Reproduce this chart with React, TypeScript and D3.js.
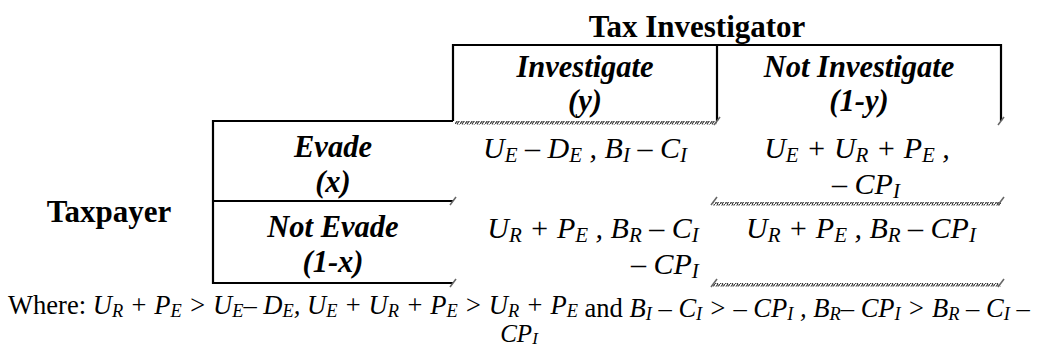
import * as d3 from 'd3';
import React, { useRef, useEffect } from 'react';

// players and strategies
const colPlayer = 'Tax Investigator';
const rowPlayer = 'Taxpayer';
const colStrategies = ['Investigate', 'Not Investigate'];
const colProbs = ['(y)', '(1-y)'];
const rowStrategies = ['Evade', 'Not Evade'];
const rowProbs = ['(x)', '(1-x)'];

// payoffs, "_X" marks a subscript; each cell may wrap to a second line
const payoffLine1 = [
  ['U_E – D_E , B_I – C_I', 'U_E + U_R + P_E ,'],
  ['U_R + P_E , B_R – C_I', 'U_R + P_E , B_R – CP_I'],
];
const payoffLine2 = [
  ['', '– CP_I'],
  ['– CP_I', ''],
];

// footnote pieces, up = upright text
const notePieces = [
  { t: 'Where: ', up: true },
  { t: 'U_R + P_E > U_E– D_E, U_E + U_R + P_E > U_R + P_E', up: false },
  { t: ' and ', up: true },
  { t: 'B_I – C_I > – CP_I , B_R– CP_I > B_R – C_I –', up: false },
];
const noteLine2 = 'CP_I';

const W = 1038;
const H = 347;
const FONT = "'Liberation Serif', 'Times New Roman', 'DejaVu Serif', serif";

function addMath(sel, str, subSize, drop) {
  const parts = str.split(/(_[A-Za-z])/).filter(p => p !== '');
  let low = false;
  parts.forEach(p => {
    if (p.startsWith('_')) {
      sel.append('tspan').attr('class', 'sub').style('font-size', subSize + 'px').attr('dy', low ? 0 : drop).text(p.slice(1));
      low = true;
    } else {
      sel.append('tspan').attr('dy', low ? -drop : 0).text(p);
      low = false;
    }
  });
}

function PayoffTable() {
  const ref = useRef(null);

  useEffect(() => {
    const svg = d3.select(ref.current);
    svg.selectAll('*').remove();

    // column edges / row edges of the matrix
    const colEdges = [453, 717, 1001];
    const rowEdges = [121, 201, 283];
    const headTop = 45;
    const rowLeft = 213;

    const colX = d3.scaleOrdinal().domain(colStrategies).range(colEdges.slice(0, 2).map((e, i) => (e + colEdges[i + 1]) / 2));
    const rowY = d3.scaleOrdinal().domain(rowStrategies).range(rowEdges.slice(0, 2));

    const defs = svg.append('defs');
    const pat = defs.append('pattern').attr('id', 'hatch').attr('patternUnits', 'userSpaceOnUse')
      .attr('width', 5).attr('height', 4);
    pat.append('path').attr('d', 'M0,4 L3,0 M2,4 L5,0').attr('stroke', '#333').attr('stroke-width', 1.1);

    const g = svg.append('g').style('font-family', FONT).attr('fill', '#000').style('white-space', 'pre');

    const txt = (x, y, size, bold, italic, anchor = 'middle') =>
      g.append('text').attr('x', x).attr('y', y).attr('text-anchor', anchor)
        .style('font-size', size + 'px')
        .style('font-weight', bold ? 'bold' : 'normal')
        .style('font-style', italic ? 'italic' : 'normal');

    // title
    txt(697, 37, 31, true, false).text(colPlayer);

    // header box
    g.append('path')
      .attr('d', `M${colEdges[0]},${rowEdges[0]} V${headTop} H${colEdges[2]} V${rowEdges[0]} M${colEdges[1]},${headTop} V${rowEdges[0]}`)
      .attr('fill', 'none').attr('stroke', '#000').attr('stroke-width', 2.2);

    // row box
    g.append('path')
      .attr('d', `M${colEdges[0]},${rowEdges[0]} H${rowLeft} V${rowEdges[2]} H${colEdges[0]} M${rowLeft},${rowEdges[1]} H${colEdges[0]}`)
      .attr('fill', 'none').attr('stroke', '#000').attr('stroke-width', 2.2);

    // hatched borders
    const hatches = [
      [colEdges[0] + 2, rowEdges[0], colEdges[1] - colEdges[0] - 2],
      [colEdges[1] - 4, rowEdges[1] + 1, colEdges[2] - colEdges[1] + 4],
      [colEdges[1] - 4, rowEdges[2], colEdges[2] - colEdges[1] + 4],
    ];
    g.selectAll('rect.hatch').data(hatches).join('rect').attr('class', 'hatch')
      .attr('x', d => d[0]).attr('y', d => d[1]).attr('width', d => d[2]).attr('height', 3.5)
      .attr('fill', 'url(#hatch)');

    const marks = [
      [colEdges[1], rowEdges[0]], [colEdges[2], rowEdges[0]],
      [colEdges[0], rowEdges[1]], [colEdges[0], rowEdges[2]],
      [colEdges[1] - 3, rowEdges[1]], [colEdges[2], rowEdges[1]],
      [colEdges[1] - 3, rowEdges[2]], [colEdges[2], rowEdges[2]],
    ];
    g.selectAll('path.mark').data(marks).join('path').attr('class', 'mark')
      .attr('d', d => `M${d[0] - 3},${d[1] + 4} L${d[0] + 3},${d[1] - 4}`)
      .attr('stroke', '#666').attr('stroke-width', 1.6);

    // column headers
    colStrategies.forEach((c, i) => {
      txt(colX(c), 77, 30.5, true, true).text(c);
      txt(colX(c), 111, 30.5, true, true).text(colProbs[i]);
    });

    // row headers
    const rowCx = (rowLeft + colEdges[0]) / 2;
    rowStrategies.forEach((r, i) => {
      txt(rowCx, rowY(r) + 36, 30.5, true, true).text(r);
      txt(rowCx, rowY(r) + 71, 30.5, true, true).text(rowProbs[i]);
    });

    txt(109, 222, 31, true, false).text(rowPlayer);

    // payoffs
    const cellShift = [[0, -2], [8, 2]];
    rowStrategies.forEach((r, i) => {
      colStrategies.forEach((c, j) => {
        const cx = colX(c) + cellShift[i][j];
        const y0 = rowY(r) + 37;
        const t1 = txt(cx, y0, 30, false, true);
        addMath(t1, payoffLine1[i][j], 21, 4);
        if (payoffLine2[i][j]) {
          const w = t1.node().getComputedTextLength();
          const t2 = j === 0
            ? txt(cx + w / 2, y0 + 36, 30, false, true, 'end')
            : txt(cx + 9, y0 + 36, 30, false, true);
          addMath(t2, payoffLine2[i][j], 21, 4);
        }
      });
    });

    // footnote, first line stretched edge to edge like the reference
    const noteLeft = 8;
    const noteRight = 1030;
    const note = txt(noteLeft, 314, 26, false, false, 'start');
    notePieces.forEach(p => {
      if (p.up) note.append('tspan').style('font-style', 'normal').text(p.t);
      else {
        const s = note.append('tspan').style('font-style', 'italic');
        addMath(s, p.t, 18, 3);
      }
    });
    const nw = note.node().getComputedTextLength();
    if (nw > 0) {
      const k = (noteRight - noteLeft) / nw;
      note.style('font-size', 26 * k + 'px');
      note.selectAll('tspan.sub').style('font-size', 18 * k + 'px');
    }
    const n2 = txt(519, 342, 25, false, true);
    addMath(n2, noteLine2, 17, 2);
  }, []);

  return <svg ref={ref} width={W} height={H} style={{ display: 'block' }} />;
}

export default function App() {
  return (
    <div style={{ position: 'absolute', left: 0, top: 0, background: '#fff' }}>
      <PayoffTable />
    </div>
  );
}
